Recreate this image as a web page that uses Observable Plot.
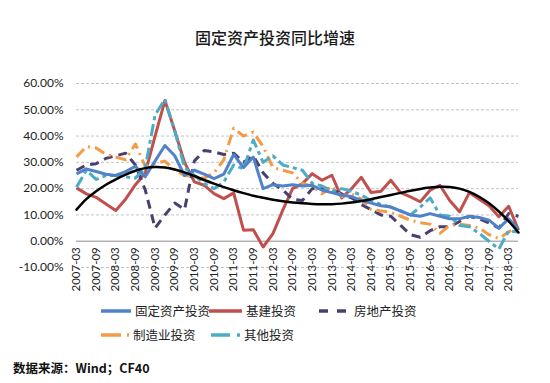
<!DOCTYPE html>
<html>
<head>
<meta charset="utf-8">
<script src="https://cdn.jsdelivr.net/npm/d3@7"></script>
<script src="https://cdn.jsdelivr.net/npm/@observablehq/plot@0.6"></script>
<style>
  html, body { margin: 0; padding: 0; background: #fff; }
  #wrap { position: relative; width: 550px; height: 383px; overflow: hidden;
          font-family: "Noto Sans CJK SC", sans-serif; color: #222; }
  #title { position: absolute; left: 0; top: 25px; width: 550px; text-align: center;
           font-size: 16px; font-weight: 500; line-height: 24px; color: #1a1a1a; }
  #chart { position: absolute; left: 0; top: 60px; }
  .leg { position: absolute; display: flex; align-items: center; height: 16px;
         font-size: 12.5px; line-height: 16px; color: #222; white-space: nowrap; }
  .leg svg { display: block; }
  #source { position: absolute; left: 13px; top: 359px; font-size: 12.5px; font-weight: 700;
            line-height: 18px; color: #111; }
</style>
</head>
<body>
<div id="wrap">
  <div id="title">固定资产投资同比增速</div>
  <div id="chart"></div>
  <div id="legend"></div>
  <div id="source">数据来源：Wind；CF40</div>
</div>
<script>
// ---- data (quarterly, YoY %) ----
const quarters = ["2007-03","2007-06","2007-09","2007-12","2008-03","2008-06","2008-09","2008-12",
  "2009-03","2009-06","2009-09","2009-12","2010-03","2010-06","2010-09","2010-12",
  "2011-03","2011-06","2011-09","2011-12","2012-03","2012-06","2012-09","2012-12",
  "2013-03","2013-06","2013-09","2013-12","2014-03","2014-06","2014-09","2014-12",
  "2015-03","2015-06","2015-09","2015-12","2016-03","2016-06","2016-09","2016-12",
  "2017-03","2017-06","2017-09","2017-12","2018-03","2018-06"];

const xTickLabels = ["2007-03","2007-09","2008-03","2008-09","2009-03","2009-09","2010-03","2010-09",
  "2011-03","2011-09","2012-03","2012-09","2013-03","2013-09","2014-03","2014-09",
  "2015-03","2015-09","2016-03","2016-09","2017-03","2017-09","2018-03"];

const yTicks = [-10, 0, 10, 20, 30, 40, 50, 60];

const fixedAsset = [25.6, 27.5, 26.5, 25.5, 25, 26.5, 28.5, 24.5, 30.5, 36.4, 32.5, 25,
  27, 25.5, 23.8, 25.5, 33, 28, 32, 20, 21.5, 21, 21.5, 21,
  21.3, 19.4, 18.5, 17.5, 17, 15.5, 14.5, 13.5, 13, 11.5, 10, 9.5,
  10.5, 9.5, 8.5, 8.5, 9.5, 9, 8, 5, 8.5, 4.5];

const infrastructure = [20.3, 18, 16.7, 14.2, 11.7, 16, 21.5, 26, 40, 53.5, 42, 30,
  22.6, 21.3, 18.1, 16.2, 18.4, 4.2, 4.4, -2.2, 2.9, 11.8, 20, 21.9,
  25.7, 23.2, 25.1, 16.5, 20, 24.3, 18.5, 19, 23.2, 18.5, 16.9, 15,
  19.4, 21.3, 15.5, 11.2, 18.5, 16, 13.5, 9.3, 13.3, 4.2];

const realEstate = [27, 29, 29.5, 31.5, 32.5, 33.5, 29, 19.5, 5, 10, 14.5, 12,
  30.5, 34.5, 34, 33, 33.5, 30, 32.5, 26, 22, 19.5, 16, 15.5,
  20, 20.5, 19.5, 18, 16.5, 14, 12, 10, 9.5, 6, 2.5, 1.5,
  4, 5.5, 5.5, 7.5, 9.5, 8.5, 7, 5, 10.5, 9.5];

const manufacturing = [32, 36, 35.5, 33, 32, 31, 37, 28.5, 29.5, 30.5, 27, 25,
  24.5, 24, 26, 31, 43, 40, 41.5, 36, 28, 27, 26, 22,
  21, 18, 21, 17, 18, 16, 12, 11.5, 11, 9.5, 8, 7,
  6.5, 3, 6, 6.5, 6, 5, 2.5, 1, 3.5, 6];

const other = [20.5, 27, 23.5, 25, 25, 24.5, 24, 28, 48, 54, 42, 28,
  25, 22, 20, 22.5, 29, 27.5, 38.5, 30, 32.5, 29, 28, 27,
  22, 21, 19, 20, 19, 17.5, 15.5, 14, 13, 11.5, 10, 13,
  16.5, 10, 9.5, 6, 5.5, 3, 0, -3, 4, 3.5];

const trend = [12, 16, 19, 21.5, 23.5, 25.3, 26.8, 27.8, 28.2, 28, 27.3, 26.2,
  24.8, 23.3, 21.9, 20.6, 19.4, 18.3, 17.3, 16.5, 15.8, 15.2, 14.7, 14.4,
  14.2, 14.1, 14.1, 14.3, 14.7, 15.3, 16, 16.8, 17.6, 18.4, 19.2, 19.9,
  20.4, 20.7, 20.6, 20, 18.8, 16.9, 14.4, 11.3, 7.6, 3.3];

const seriesNames = ["固定资产投资", "基建投资", "房地产投资", "制造业投资", "其他投资"];

// ---- styles ----
const styles = {
  "固定资产投资": {stroke: "#4f82c8", dash: null},
  "基建投资": {stroke: "#c0504d", dash: null},
  "房地产投资": {stroke: "#4a3f70", dash: "9,6"},
  "制造业投资": {stroke: "#f59a45", dash: "11,5,2,5"},
  "其他投资": {stroke: "#4bacc6", dash: "12,4,4,4"}
};

const seriesValues = {
  "固定资产投资": fixedAsset,
  "基建投资": infrastructure,
  "房地产投资": realEstate,
  "制造业投资": manufacturing,
  "其他投资": other
};

function rows(values) {
  return quarters.map((q, i) => ({q, v: values[i]}));
}

const drawOrder = ["基建投资", "房地产投资", "制造业投资", "其他投资", "固定资产投资"];

const lineMarks = drawOrder.map(name => Plot.line(rows(seriesValues[name]), {
  x: "q", y: "v",
  stroke: styles[name].stroke,
  strokeWidth: 3,
  strokeDasharray: styles[name].dash || undefined,
  strokeLinejoin: "round",
  strokeLinecap: "butt"
}));

const chart = Plot.plot({
  width: 550,
  height: 240,
  marginLeft: 76,
  marginRight: 32,
  marginTop: 23,
  marginBottom: 33,
  x: {type: "point", domain: quarters, padding: 0, axis: null},
  y: {domain: [-10, 60], axis: null},
  style: {fontFamily: "Lato, 'Open Sans', sans-serif", fontSize: "12px", color: "#222", background: "transparent", overflow: "visible"},
  marks: [
    Plot.ruleY(yTicks.filter(d => d !== 0), {stroke: "#c4c4c4", strokeWidth: 1, strokeDasharray: "3,2"}),
    Plot.ruleY([0], {stroke: "#b3b3b3", strokeWidth: 1.5}),
    Plot.axisY(yTicks, {tickSize: 0, tickPadding: 13, label: null, tickFormat: d => d.toFixed(2) + "%", fontSize: 12, fill: "#222"}),
    Plot.text(xTickLabels, {x: d => d, y: 0, text: d => d, rotate: -90, textAnchor: "end",
      lineAnchor: "middle", dy: 6, fontSize: 11.5, fill: "#222"}),
    ...lineMarks,
    Plot.line(rows(trend), {x: "q", y: "v", stroke: "#000", strokeWidth: 2.5, curve: "catmull-rom"})
  ]
});
document.getElementById("chart").appendChild(chart);

// ---- legend ----
const legendItems = [
  {name: "固定资产投资", left: 101, top: 303, w: 30, segs: [[0, 30]]},
  {name: "基建投资", left: 209, top: 303, w: 33, segs: [[0, 33]]},
  {name: "房地产投资", left: 319, top: 303, w: 27, segs: [[0, 9], [18, 27]], gap: 8},
  {name: "制造业投资", left: 101, top: 327, w: 28, segs: [[0, 20], [26, 28]]},
  {name: "其他投资", left: 211, top: 327, w: 29, segs: [[0, 19], [26, 29]]}
];
const legendDiv = document.getElementById("legend");
for (const it of legendItems) {
  const div = document.createElement("div");
  div.className = "leg";
  div.style.left = it.left + "px";
  div.style.top = it.top + "px";
  const ns = "http://www.w3.org/2000/svg";
  const svg = document.createElementNS(ns, "svg");
  svg.setAttribute("width", it.w);
  svg.setAttribute("height", 6);
  for (const [a, b] of it.segs) {
    const l = document.createElementNS(ns, "line");
    l.setAttribute("x1", a); l.setAttribute("x2", b);
    l.setAttribute("y1", 3); l.setAttribute("y2", 3);
    l.setAttribute("stroke", styles[it.name].stroke);
    l.setAttribute("stroke-width", 3.5);
    svg.appendChild(l);
  }
  div.appendChild(svg);
  const span = document.createElement("span");
  span.textContent = it.name;
  span.style.marginLeft = (it.gap || 4) + "px";
  div.appendChild(span);
  legendDiv.appendChild(div);
}
</script>
</body>
</html>
